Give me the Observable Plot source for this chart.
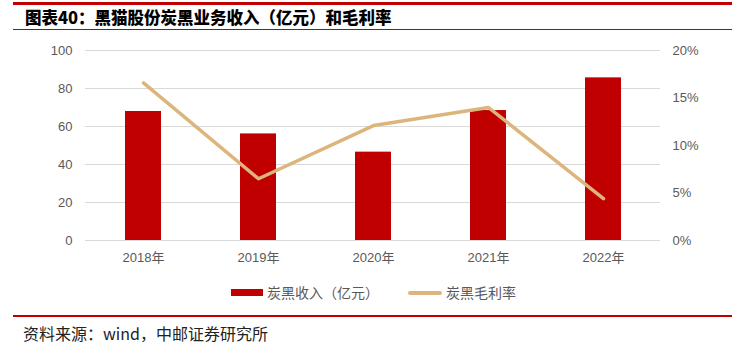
<!DOCTYPE html>
<html>
<head>
<meta charset="utf-8">
<script src="https://cdn.jsdelivr.net/npm/d3@7"></script>
<script src="https://cdn.jsdelivr.net/npm/@observablehq/plot@0.6"></script>
<style>
  html, body { margin: 0; padding: 0; background: #fff; }
  body { width: 746px; height: 352px; position: relative; overflow: hidden;
         font-family: "Liberation Sans", "Noto Sans CJK SC", sans-serif; }
  .rule { position: absolute; left: 13px; width: 719px; background: #C00000; }
  #title { position: absolute; left: 25px; top: 6px; font-family: "Noto Sans CJK SC", sans-serif;
           font-weight: 900; font-size: 16.5px; color: #000; line-height: 22px; white-space: nowrap; }
  #chart { position: absolute; left: 0; top: 35px; }
  #legend { position: absolute; top: 282px; left: 0; width: 746px; height: 20px; }
  .lg { position: absolute; top: 0; font-family: "Noto Sans CJK SC", sans-serif; font-size: 14px;
        color: #595959; line-height: 20px; white-space: nowrap; }
  #footer { position: absolute; left: 23px; top: 322px; font-family: "Noto Sans CJK SC", sans-serif;
            font-size: 16px; color: #222; line-height: 22px; white-space: nowrap; }
</style>
</head>
<body>
<div class="rule" style="top:2px;height:3px;"></div>
<div id="title">图表40：黑猫股份炭黑业务收入（亿元）和毛利率</div>
<div class="rule" style="top:29px;height:1px;"></div>
<div id="chart"></div>
<div id="legend">
  <div style="position:absolute;left:231px;top:7px;width:32px;height:7px;background:#C00000;"></div>
  <div class="lg" style="left:267px;">炭黑收入（亿元）</div>
  <div style="position:absolute;left:408px;top:9px;width:34px;height:3.5px;background:#DDB57C;border-radius:2px;"></div>
  <div class="lg" style="left:446px;">炭黑毛利率</div>
</div>
<div class="rule" style="top:315px;height:1.5px;"></div>
<div id="footer">资料来源：wind，中邮证券研究所</div>
<script>
const years = ["2018年", "2019年", "2020年", "2021年", "2022年"];
const revenue = [67.9, 56.1, 46.5, 68.4, 85.6];      // 亿元
const grossMargin = [16.6, 6.5, 12.1, 14.0, 4.4];    // %
const leftTicks = [0, 20, 40, 60, 80, 100];
const rightTicks = [0, 5, 10, 15, 20];

const barColor = "#C00000";
const lineColor = "#DDB57C";
const pctToLeft = 100 / 20;

const rows = years.map((y, i) => ({year: y, revenue: revenue[i], margin: grossMargin[i], marginScaled: grossMargin[i] * pctToLeft}));

const chart = Plot.plot({
  width: 746,
  height: 240,
  marginTop: 15,
  marginBottom: 35,
  marginLeft: 85,
  marginRight: 86,
  style: {fontFamily: "'Liberation Sans', 'Noto Sans CJK SC', sans-serif", fontSize: "13px", color: "#595959", background: "transparent"},
  x: {domain: years, paddingInner: 0.69, paddingOuter: 0.345, label: null},
  y: {domain: [0, 100], label: null},
  marks: [
    Plot.gridY(leftTicks, {stroke: "#d9d9d9", strokeOpacity: 1, strokeWidth: 1}),
    Plot.barY(rows, {x: "year", y: "revenue", fill: barColor}),
    Plot.line(rows, {x: "year", y: "marginScaled", stroke: lineColor, strokeWidth: 3.5, strokeLinejoin: "round", strokeLinecap: "round"}),
    Plot.axisX({tickSize: 0, tickPadding: 12, label: null, fill: "#595959"}),
    Plot.axisY(leftTicks, {anchor: "left", tickSize: 0, tickPadding: 13, label: null, fill: "#595959"}),
    Plot.axisY(rightTicks.map(t => t * pctToLeft), {anchor: "right", tickSize: 0, tickPadding: 12, label: null, fill: "#595959",
      tickFormat: d => `${d / pctToLeft}%`})
  ]
});
document.getElementById("chart").appendChild(chart);
</script>
</body>
</html>
